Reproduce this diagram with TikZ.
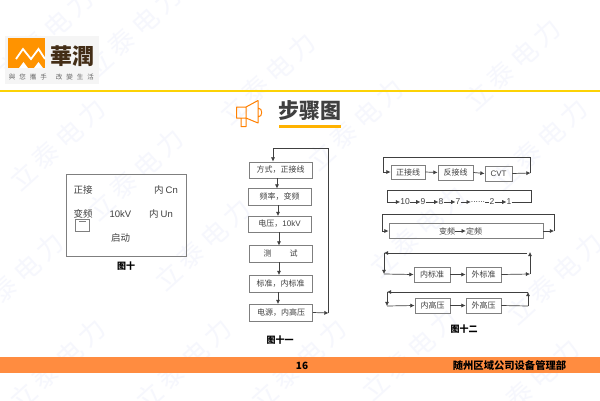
\documentclass[tikz,border=0pt]{standalone}
\usepackage{fontspec}
\setmainfont{Noto Sans CJK SC}
\newfontfamily\lat{Liberation Sans}
\usetikzlibrary{arrows.meta}
\definecolor{edge}{HTML}{7F7F7F}
\definecolor{wire}{HTML}{404040}
\definecolor{txt}{HTML}{404040}
\definecolor{bandorange}{HTML}{FF8C40}
\definecolor{wmcol}{HTML}{F6F7FD}
\tikzset{
 x=1pt,y=-1pt,
 flowbox/.style={draw=edge,line width=0.9pt,inner sep=0pt,text=txt,font=\fontsize{8}{8}\selectfont},
 lbl/.style={inner sep=0pt,text=txt,font=\fontsize{9.5}{10}\selectfont},
 smalllbl/.style={inner sep=0pt,text=txt,font=\fontsize{8}{8}\selectfont},
 figcap/.style={inner sep=0pt,text=black,font=\fontsize{9}{9}\selectfont\bfseries},
 wm/.style={inner sep=0pt,text=wmcol,rotate=42,font=\fontsize{26}{26}\selectfont},
 conn/.style={draw=wire,line width=0.7pt},
 arr/.style={draw=wire,line width=0.7pt,-{Latex[length=4.2pt,width=4.2pt]}},
}
\newcommand{\bx}[6]{\node[flowbox,minimum width=#4pt-#2pt,minimum height=#5pt-#3pt] (#1) at ({(#2+#4)/2},{(#3+#5)/2}) {#6};}
\begin{document}
\begin{tikzpicture}
\useasboundingbox (0,0) rectangle (600,400);
\fill[white] (0,0) rectangle (600,400);
% watermark, placed by the last character
\begin{scope}
\clip (0,0) rectangle (600,400);
\foreach \x/\y in {92/113,170/143,302/47,390/93,547/33,574/113,589/247,92/333,218/333,333/333,444/323,566/353,50/247,237/213,452/200,80/3,168/0}{
 \node[wm] at (\x,\y) {力};
 \node[wm] at (\x-23,\y+21) {电};
 \node[wm] at (\x-46,\y+42) {泰};
 \node[wm] at (\x-69,\y+63) {立};
}
\end{scope}
% header
\fill[black!4] (5,36) rectangle (99,84);
\fill[orange!85!yellow] (8,38) rectangle (45,68);
\draw[white,line width=1.8pt] (16,59) -- (23,49) -- (31,59) -- (38.5,49) -- (45,59);
\fill[white] (19,68) -- (23.5,62) -- (28,68) -- cycle (34,68) -- (38.5,62) -- (43,68) -- cycle;
\node[inner sep=0pt,text=black!65!brown,font=\fontsize{22}{22}\selectfont\bfseries] (logo) at (72.5,56.5) {華潤};
\node[inner sep=0pt,text=black!60,font=\fontsize{6.5}{6.5}\selectfont] (slogan) at (51.5,77) {與\hspace{4pt}您\hspace{4pt}攜\hspace{4pt}手\hspace{9pt}改\hspace{4pt}變\hspace{4pt}生\hspace{4pt}活};
\fill[yellow!70!orange] (0,90.2) rectangle (600,91.6);
% title
\node[inner sep=0pt,text=txt,font=\fontsize{21}{21}\selectfont\bfseries] (title) at (309.5,110.5) {步骤图};
\fill[orange!60!yellow] (279,125) rectangle (341,128);
\draw[orange,line width=1pt,line join=round] (236.5,107) rectangle (246,118) (241,118) rectangle (246,126.5)
 (246,107) -- (258,100.5) -- (258,123) -- (246,118) (258,108) .. controls (263,108) and (263,117) .. (258,117);
% figure 10
\draw[edge,line width=0.9pt] (66.5,174.5) rectangle (186.5,256);
\node[lbl] (a1) at (83,190) {正接};
\node[lbl] (a2) at (166,190) {内 {\lat Cn}};
\node[lbl] (a3) at (83,214) {变频};
\node[lbl] (a4) at (120.5,214) {\lat 10kV};
\node[lbl] (a5) at (161,214) {内 {\lat Un}};
\node[lbl] (a6) at (120.5,238) {启动};
\draw[edge,line width=0.7pt] (75,219) rectangle (89.5,231.5);
\draw[edge,line width=0.7pt] (79,221.5) -- (86,221.5);
\node[figcap] (c10) at (126,266) {图十};
% figure 11
\bx{b1}{249}{162}{312}{178}{方式，正接线}
\bx{b2}{248}{188.5}{311}{205}{频率，变频\hspace{10pt}}
\bx{b3}{248}{216}{311}{232}{电压，{\lat 10kV}\hspace{8pt}}
\bx{b4}{249}{245.5}{312}{262}{测\hspace{18pt}试}
\bx{b5}{249}{275}{312}{292}{标准，内标准}
\bx{b6}{249.5}{304}{312.5}{321}{电源，内高压}
\coordinate (t0) at (273,148);
\coordinate (t1) at (328.5,148);
\coordinate (t2) at (328.5,313);
\draw[arr] (t0) -- (t0 |- b1.north);
\draw[conn] (t0) -- (t1) -- (t2);
\draw[arr] (277,178) -- (277,188.5);
\draw[arr] (278,205) -- (278,216);
\draw[arr] (279,232) -- (279,245.5);
\draw[arr] (279,262) -- (279,275);
\draw[arr] (278,292) -- (278,304);
\draw[arr] (b6.east) -- (t2);
\node[figcap] (c11) at (280,340) {图十一};
% figure 12 row 1
\bx{r1}{391}{165}{425}{179}{正接线}
\bx{r2}{438}{165}{473}{180}{反接线}
\bx{r3}{485}{166}{512}{181}{\lat CVT}
\coordinate (p1) at (530.5,173);
\coordinate (p2) at (530.5,157);
\coordinate (p3) at (383,157);
\coordinate (p4) at (383,172);
\draw[arr] (r1.east) -- (r2.west);
\draw[arr] (r2.east) -- (r3.west);
\draw[arr] (r3.east) -- (p1);
\draw[conn] (p1) -- (p2) -- (p3) -- (p4);
\draw[arr] (p4) -- (r1.west);
% row 2
\foreach \n/\x/\t in {n10/405/10,n9/423/9,n8/441/8,n7/458/7,nd/478/{......},n2/492/2,n1/509/1}
 \node[inner sep=0pt,text=txt,font=\fontsize{8.5}{8.5}\selectfont\lat] (\n) at (\x,202) {\t};
\coordinate (q1) at (531.5,202);
\coordinate (q2) at (531.5,190);
\coordinate (q3) at (387,190);
\coordinate (q4) at (387,202);
\draw[conn] (n1.east) -- (q1) -- (q2) -- (q3) -- (q4);
\draw[arr] (q4) -- (n10.west);
\draw[arr] (n10.east) -- (n9.west);
\draw[arr] (n9.east) -- (n8.west);
\draw[arr] (n8.east) -- (n7.west);
\draw[arr] (n7.east) -- (nd.west);
\draw[conn] (nd.east) -- (n2.west);
\draw[arr] (n2.east) -- (n1.west);
% row 3
\bx{w}{389}{223}{543}{238}{}
\node[smalllbl] (w1) at (447,231) {变频};
\node[smalllbl] (w2) at (474,231) {定频};
\draw[arr] (w1.east) -- (w2.west);
\coordinate (s1) at (554,231);
\coordinate (s2) at (554,214);
\coordinate (s3) at (382,214);
\coordinate (s4) at (382,231);
\draw[arr] (w.east |- s1) -- (s1);
\draw[conn] (s1) -- (s2) -- (s3) -- (s4);
\draw[arr] (s4) -- (w.west |- s4);
% row 4
\bx{u1}{414}{267}{450}{282}{内标准}
\bx{u2}{466}{267}{501}{282}{外标准}
\coordinate (v1) at (530,274);
\coordinate (v2) at (530,252);
\coordinate (v3) at (527,253);
\coordinate (v4) at (384,253);
\coordinate (v5) at (384,274);
\draw[arr] (u1.east) -- (u2.west);
\draw[arr] (u2.east) -- (v1);
\draw[arr] (v1) -- (v2);
\draw[arr] (v3) -- (v4);
\draw[arr] (v4) -- (v5);
\draw[arr] (v5) -- (u1.west);
% row 5
\bx{k1}{415}{298}{450}{313}{内高压}
\bx{k2}{466}{298}{501}{313}{外高压}
\coordinate (m1) at (528,306);
\coordinate (m2) at (528,292);
\coordinate (m3) at (387,292);
\coordinate (m4) at (387,306);
\draw[arr] (k1.east) -- (k2.west);
\draw[conn] (k2.east) -- (m1);
\draw[arr] (m1) -- (m2);
\draw[arr] (m2) -- (m3);
\draw[arr] (m3) -- (m4);
\draw[arr] (m4) -- (k1.west);
\node[figcap] (c12) at (464,329) {图十二};
% footer
\fill[bandorange] (0,357) rectangle (600,373);
\node[inner sep=0pt,text=black,font=\fontsize{10}{10}\selectfont\bfseries] (pg) at (302,366) {16};
\node[inner sep=0pt,text=black,font=\fontsize{10.3}{10.3}\selectfont\bfseries] (dept) at (509.5,366) {随州区域公司设备管理部};
\end{tikzpicture}
\end{document}
